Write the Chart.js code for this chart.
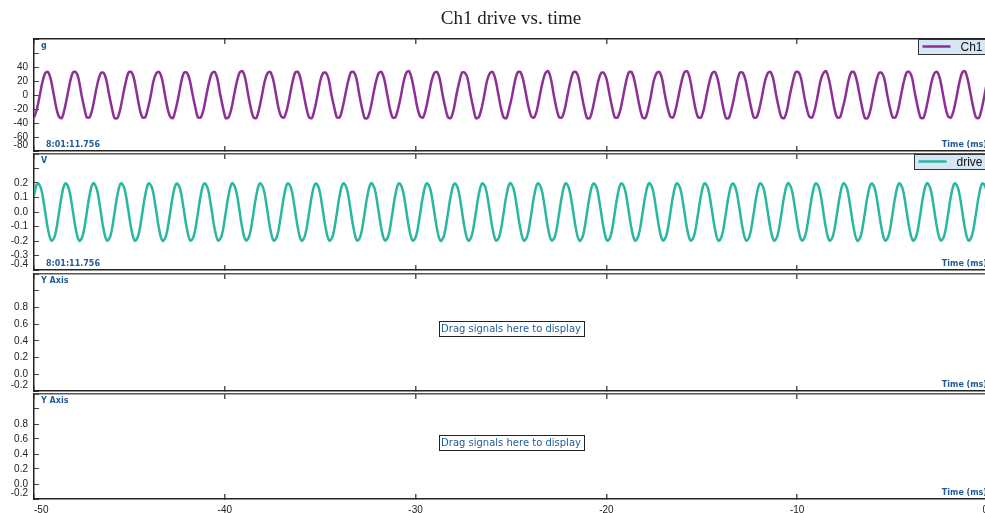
<html>

<head>
  <script src="https://cdn.jsdelivr.net/npm/chart.js@4.4.0/dist/chart.umd.min.js"></script>
  <style>
    body { margin: 0; overflow: hidden; background: #fff; }
    canvas { position: absolute; left: 0; }
  </style>
</head>

<body>
  <canvas id="accelChart" width="994" height="158" style="top:0px"></canvas>
  <canvas id="driveChart" width="994" height="130" style="top:147px"></canvas>
  <canvas id="emptyChart1" width="994" height="131" style="top:267px"></canvas>
  <canvas id="emptyChart2" width="994" height="126" style="top:387px"></canvas>
</body>

<script>
  // time axis (ms)
  const timeStartMs = -50;
  const timeTickValues = [-50, -40, -30, -20, -10, 0];
  const timeTickLabels = ['-50', '-40', '-30', '-20', '-10', '0'];

  // Ch1 accelerometer (g), one sample every 0.14565 ms
  const ch1StepMs = 0.14565;
  const ch1Values = [
    -32, -21, -2, 18, 31, 33, 23, 3, -18, -31,
    -33, -20, -1, 19, 32, 33, 24, 2, -17, -32,
    -32, -20, 0, 19, 31, 32, 22, 1, -18, -33,
    -33, -21, -1, 18, 32, 33, 23, 2, -19, -32,
    -32, -19, -1, 20, 31, 33, 24, 3, -18, -31,
    -33, -20, -2, 19, 32, 32, 22, 2, -17, -32,
    -32, -21, -1, 18, 31, 33, 23, 1, -18, -33,
    -32, -20, 0, 19, 32, 34, 24, 2, -18, -32,
    -33, -20, -1, 19, 31, 33, 23, 3, -19, -31,
    -32, -21, -2, 18, 32, 33, 22, 2, -18, -32,
    -33, -20, -1, 20, 31, 32, 23, 1, -17, -32,
    -32, -19, 0, 19, 32, 33, 24, 2, -18, -33,
    -33, -21, -1, 18, 31, 33, 23, 3, -18, -32,
    -32, -20, -2, 19, 32, 34, 22, 2, -19, -31,
    -32, -20, -1, 19, 31, 33, 23, 1, -18, -32,
    -33, -21, 0, 18, 32, 32, 24, 2, -17, -33,
    -32, -20, -1, 20, 31, 33, 23, 3, -18, -32,
    -33, -19, -2, 19, 32, 33, 22, 2, -18, -31,
    -32, -21, -1, 18, 31, 34, 23, 1, -19, -32,
    -32, -20, 0, 19, 32, 33, 24, 2, -18, -33,
    -33, -20, -1, 19, 31, 32, 23, 3, -17, -32,
    -32, -21, -2, 18, 32, 33, 22, 2, -18, -32,
    -33, -20, -1, 20, 31, 33, 23, 1, -18, -31,
    -32, -19, 0, 19, 32, 34, 24, 2, -19, -32,
    -32, -21, -1, 18, 31, 33, 23, 3, -18, -33,
    -33, -20, -2, 19, 32, 32, 22, 2, -17, -32,
    -32, -20, -1, 19, 31, 33, 23, 1, -18, -32,
    -33, -21, 0, 18, 32, 33, 24, 2, -18, -31,
    -32, -20, -1, 20, 31, 34, 23, 3, -19, -32,
    -32, -19, -2, 19, 32, 33, 22, 2, -18, -33,
    -33, -21, -1, 18, 31, 32, 23, 1, -18, -32,
    -32, -20, 0, 19, 32, 33, 24, 2, -17, -32,
    -33, -20, -1, 19, 31, 33, 23, 3, -18, -31,
    -32, -21, -2, 18, 32, 34, 22, 2, -18, -32,
    -33, -20, -1, 19, 31
  ];
  const ch1TickValues = [-80, -60, -40, -20, 0, 20, 40, 60, 80];
  const ch1TickLabels = [['-80', ''], '-60', '-40', '-20', '0', '20', '40', '', ''];

  // drive signal (V), one sample every 0.18207 ms
  const driveStepMs = 0.18207;
  const driveValues = [
    0.115, 0.197, 0.164, 0.035, -0.115, -0.197, -0.164, -0.035,
    0.116, 0.197, 0.163, 0.035, -0.115, -0.198, -0.164, -0.034,
    0.115, 0.198, 0.164, 0.036, -0.116, -0.197, -0.164, -0.035,
    0.115, 0.197, 0.164, 0.035, -0.115, -0.197, -0.163, -0.035,
    0.114, 0.197, 0.164, 0.034, -0.115, -0.198, -0.164, -0.035,
    0.115, 0.196, 0.165, 0.035, -0.114, -0.197, -0.164, -0.036,
    0.116, 0.197, 0.164, 0.035, -0.115, -0.197, -0.165, -0.035,
    0.115, 0.198, 0.163, 0.035, -0.116, -0.196, -0.164, -0.034,
    0.115, 0.197, 0.164, 0.036, -0.115, -0.197, -0.164, -0.035,
    0.114, 0.197, 0.164, 0.035, -0.115, -0.198, -0.163, -0.035,
    0.115, 0.196, 0.165, 0.034, -0.115, -0.197, -0.164, -0.036,
    0.116, 0.197, 0.164, 0.035, -0.114, -0.197, -0.164, -0.035,
    0.115, 0.198, 0.164, 0.035, -0.115, -0.196, -0.165, -0.035,
    0.115, 0.197, 0.163, 0.036, -0.116, -0.197, -0.164, -0.034,
    0.114, 0.197, 0.164, 0.035, -0.115, -0.198, -0.164, -0.035,
    0.115, 0.196, 0.164, 0.035, -0.115, -0.197, -0.163, -0.035,
    0.116, 0.197, 0.165, 0.034, -0.114, -0.197, -0.164, -0.036,
    0.115, 0.198, 0.164, 0.035, -0.115, -0.197, -0.164, -0.035,
    0.115, 0.197, 0.164, 0.036, -0.116, -0.196, -0.165, -0.035,
    0.114, 0.197, 0.163, 0.035, -0.115, -0.198, -0.164, -0.034,
    0.115, 0.196, 0.164, 0.035, -0.115, -0.197, -0.164, -0.035,
    0.116, 0.197, 0.164, 0.034, -0.114, -0.197, -0.163, -0.036,
    0.115, 0.198, 0.165, 0.035, -0.115, -0.196, -0.164, -0.035,
    0.115, 0.197, 0.164, 0.036, -0.116, -0.197, -0.164, -0.035,
    0.114, 0.197, 0.164, 0.035, -0.115, -0.198, -0.165, -0.034,
    0.115, 0.196, 0.163, 0.035, -0.115, -0.197, -0.164, -0.035,
    0.116, 0.197, 0.164, 0.034, -0.114, -0.197, -0.164, -0.036,
    0.115, 0.198, 0.164, 0.035, -0.115, -0.196, -0.163, -0.035,
    0.115, 0.197, 0.165, 0.036, -0.116, -0.197, -0.164, -0.035,
    0.114, 0.197, 0.164, 0.035, -0.115, -0.198, -0.164, -0.034,
    0.115, 0.196, 0.164, 0.035, -0.115, -0.197, -0.165, -0.035,
    0.116, 0.197, 0.163, 0.034, -0.114, -0.197, -0.164, -0.036,
    0.115, 0.198, 0.164, 0.035, -0.115, -0.196, -0.164, -0.035,
    0.115, 0.197, 0.164, 0.036, -0.116, -0.197, -0.163, -0.035,
    0.114, 0.197, 0.165, 0.035
  ];
  const driveTickValues = [-0.4, -0.3, -0.2, -0.1, 0, 0.1, 0.2, 0.3, 0.4];
  const driveTickLabels = [['-0.4', ''], '-0.3', '-0.2', '-0.1', '0.0', '0.1', '0.2', '', ''];

  // empty panels
  const emptyTickValues = [-0.2, 0, 0.2, 0.4, 0.6, 0.8, 1.0, 1.2];
  const emptyTickLabels = [['-0.2', ''], '0.0', '0.2', '0.4', '0.6', '0.8', '', ''];

  const blue = '#1f5b9a';
  const purple = '#8e2f98';
  const teal = '#2ab7a0';

  Chart.defaults.font.family = '"Liberation Sans", Arial, sans-serif';
  Chart.defaults.font.size = 10;
  Chart.defaults.color = '#222';

  // labels, legend and message box drawn inside each panel
  const panelDecor = {
    id: 'panelDecor',
    afterDraw(chart, args, o) {
      const ctx = chart.ctx;
      const a = chart.chartArea;
      ctx.save();
      ctx.strokeStyle = '#222';
      ctx.lineWidth = 1.5;
      ctx.beginPath();
      ctx.moveTo(a.right, a.top);
      ctx.lineTo(a.right, a.bottom);
      ctx.stroke();

      ctx.fillStyle = blue;
      ctx.font = 'bold 8px "DejaVu Sans", Verdana, sans-serif';
      ctx.textBaseline = 'middle';
      ctx.textAlign = 'left';
      ctx.fillText(o.unit, a.left + 7, a.top + 7);
      if (o.stamp) ctx.fillText(o.stamp, a.left + 12, a.bottom - 6);
      ctx.textAlign = 'right';
      ctx.fillText('Time (ms)', a.right - 1, a.bottom - 6);

      if (o.message) {
        ctx.font = '10px "DejaVu Sans", Verdana, sans-serif';
        const w = ctx.measureText(o.message).width + 5;
        const cx = (a.left + a.right) / 2;
        const cy = (a.top + a.bottom) / 2 - 4;
        ctx.fillStyle = '#fff';
        ctx.fillRect(cx - w / 2, cy - 7.5, w, 15);
        ctx.strokeStyle = '#222';
        ctx.lineWidth = 1;
        ctx.strokeRect(Math.round(cx - w / 2) + 0.5, Math.round(cy - 7.5) + 0.5, Math.round(w), 15);
        ctx.fillStyle = blue;
        ctx.textAlign = 'center';
        ctx.fillText(o.message, cx, cy + 0.5);
      }

      chart.data.datasets.forEach(ds => {
        ctx.font = '12px "Liberation Sans", Arial, sans-serif';
        const tw = ctx.measureText(ds.label).width;
        const bw = 4 + 28 + 10 + tw + 6;
        const bx = Math.round(a.right - bw) + 0.5;
        const by = Math.round(a.top) + 0.5;
        ctx.fillStyle = '#d6e6f5';
        ctx.fillRect(bx, by, bw, 15);
        ctx.strokeStyle = '#333';
        ctx.lineWidth = 1;
        ctx.strokeRect(bx, by, bw, 15);
        ctx.strokeStyle = ds.borderColor;
        ctx.lineWidth = 2.5;
        ctx.beginPath();
        ctx.moveTo(bx + 4, by + 7);
        ctx.lineTo(bx + 32, by + 7);
        ctx.stroke();
        ctx.fillStyle = '#111';
        ctx.textAlign = 'left';
        ctx.fillText(ds.label, bx + 42, by + 8);
      });
      ctx.restore();
    }
  };

  function timeScale(position, showLabels, topColor) {
    return {
      type: 'linear',
      position: position,
      min: -50,
      max: 0,
      afterBuildTicks: s => { s.ticks = timeTickValues.map(v => ({ value: v })); },
      afterFit: s => {
        s.height = showLabels ? 14 : 0;
        s.paddingLeft = 0;
        s.paddingRight = 0;
      },
      ticks: {
        display: showLabels,
        autoSkip: false,
        maxRotation: 0,
        align: 'inner',
        padding: 10,
        color: '#222',
        callback: (v, i) => timeTickLabels[i]
      },
      grid: { drawOnChartArea: false, tickLength: -5, color: '#555', lineWidth: 1.5 },
      border: { color: topColor || '#222', width: 1.5 }
    };
  }

  function valueScale(min, max, tickValues, tickLabels) {
    return {
      type: 'linear',
      position: 'left',
      min: min,
      max: max,
      afterBuildTicks: s => { s.ticks = tickValues.map(v => ({ value: v })); },
      afterFit: s => {
        s.width = 34;
        s.paddingTop = 0;
        s.paddingBottom = 0;
      },
      ticks: {
        autoSkip: false,
        padding: 11,
        color: '#222',
        callback: (v, i) => tickLabels[i]
      },
      grid: { drawOnChartArea: false, tickLength: -5, color: '#444', lineWidth: 1 },
      border: { color: '#222', width: 1.5 }
    };
  }

  function makePanel(id, datasets, yScale, decor, extra) {
    const ctx = document.getElementById(id).getContext('2d');
    return new Chart(ctx, {
      type: 'line',
      data: { datasets: datasets },
      plugins: [panelDecor],
      options: Object.assign({
        responsive: false,
        animation: false,
        devicePixelRatio: 1,
        layout: { padding: { top: 7, bottom: 7, left: 0, right: 6 } },
        scales: {
          x: timeScale('bottom', false),
          x2: timeScale('top', false, '#555'),
          y: yScale
        },
        plugins: {
          legend: { display: false },
          tooltip: { enabled: false },
          panelDecor: decor
        }
      }, extra || {})
    });
  }

  const ch1Points = ch1Values.map((v, i) => ({ x: timeStartMs + i * ch1StepMs, y: v }));
  const drivePoints = driveValues.map((v, i) => ({ x: timeStartMs + i * driveStepMs, y: v }));

  // panel 1: Ch1 with the chart title
  const accelChart = makePanel('accelChart', [{
    label: 'Ch1',
    data: ch1Points,
    borderColor: purple,
    backgroundColor: purple,
    borderWidth: 2.5,
    pointRadius: 0,
    tension: 0.3
  }], valueScale(-80, 80, ch1TickValues, ch1TickLabels), { unit: 'g', stamp: '8:01:11.756' });
  accelChart.options.layout.padding = { top: 0, bottom: 7, left: 0, right: 6 };
  accelChart.options.scales.x2.border.color = '#222';
  accelChart.options.plugins.title = {
    display: true,
    text: 'Ch1 drive vs. time',
    fullSize: false,
    color: '#222',
    font: { family: '"Liberation Serif", "Times New Roman", serif', size: 19, weight: 'normal' },
    padding: { top: 8, bottom: 8.2 }
  };
  accelChart.update();

  // panel 2: drive
  makePanel('driveChart', [{
    label: 'drive',
    data: drivePoints,
    borderColor: teal,
    backgroundColor: teal,
    borderWidth: 2.5,
    pointRadius: 0,
    tension: 0.4
  }], valueScale(-0.4, 0.4, driveTickValues, driveTickLabels), { unit: 'V', stamp: '8:01:11.756' });

  // panels 3 and 4: empty drop targets
  makePanel('emptyChart1', [], valueScale(-0.2, 1.2, emptyTickValues, emptyTickLabels),
    { unit: 'Y Axis', message: 'Drag signals here to display' });

  const lastPanel = makePanel('emptyChart2', [], valueScale(-0.2, 1.2, emptyTickValues, emptyTickLabels),
    { unit: 'Y Axis', message: 'Drag signals here to display' });
  lastPanel.options.layout.padding = { top: 7, bottom: 0, left: 0, right: 6 };
  lastPanel.options.scales.x = timeScale('bottom', true);
  lastPanel.update();
</script>

</html>
